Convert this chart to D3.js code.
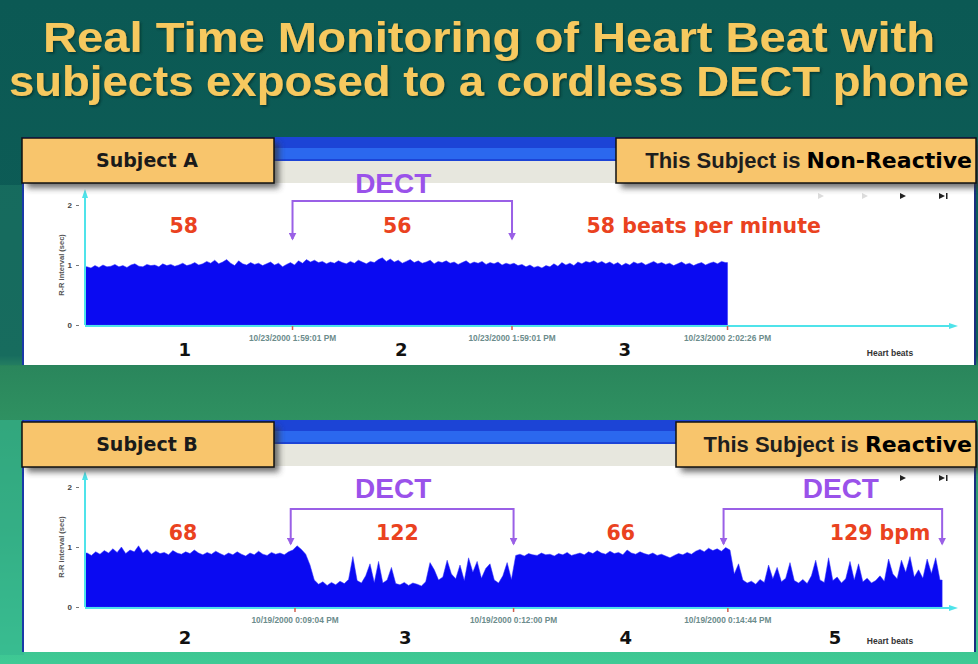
<!DOCTYPE html>
<html><head><meta charset="utf-8">
<script src="https://cdn.jsdelivr.net/npm/d3@7"></script>
<style>
body{margin:0;overflow:hidden;background:#0c5a55}
svg{display:block;font-family:"Liberation Sans",Arial,sans-serif}
</style>
</head><body>
<svg id="c" width="978" height="664"></svg>
<script>
// ---------------- DATA ----------------
const titleLines = ["Real Time Monitoring of Heart Beat with", "subjects exposed to a cordless DECT phone"];
const subjectNames = ["Subject A", "Subject B"];
const verdictPrefix = "This Subject is ";
const verdicts = ["Non-Reactive", "Reactive"];
const yTicks = [0, 1, 2];
const yAxisLabel = "R-R interval (sec)";
const xAxisLabel = "Heart beats";
const dectLabel = "DECT";

const rrA = [
 0.97,0.95,0.99,0.96,1.00,0.97,0.98,1.01,0.97,0.99,0.96,1.00,1.02,0.98,0.97,1.01,0.99,1.00,0.97,1.02,0.99,1.01,0.98,1.00,1.03,0.99,
 1.01,1.04,1.00,1.02,1.06,1.03,1.08,1.02,1.05,1.09,1.03,0.99,1.07,1.02,1.00,1.04,1.01,1.03,0.99,1.02,1.05,1.00,1.03,0.97,1.01,1.04,
 1.00,1.07,1.03,1.09,1.05,1.08,1.04,1.06,1.02,1.05,1.03,1.07,1.04,1.02,1.06,1.03,1.08,1.05,1.02,1.06,1.04,1.09,1.12,1.06,1.10,1.05,
 1.08,1.03,1.06,1.09,1.04,1.07,1.03,1.05,1.08,1.02,1.06,1.04,1.07,1.03,1.05,1.01,1.04,1.07,1.02,1.05,1.03,1.06,1.01,1.04,1.02,1.05,1.00,1.03,1.01,
 1.03,0.99,1.01,0.97,1.00,0.96,0.98,0.95,0.99,0.97,1.02,0.98,1.04,1.00,1.03,0.99,1.05,1.02,1.06,1.04,1.07,1.03,1.06,1.02,1.05,1.01,1.04,
 0.99,1.03,1.00,1.05,1.02,1.04,1.00,1.03,1.06,1.02,1.04,1.01,1.03,0.99,1.02,1.05,1.01,1.03,0.99,1.02,1.04,1.00,1.03,1.05,1.02,1.06,1.04
];
// R-R intervals (sec), subject B
const rrB = [
 0.90,0.86,0.92,0.88,0.94,0.90,0.97,0.91,1.00,0.89,0.95,0.92,1.02,0.90,0.96,0.88,0.93,0.89,0.91,0.87,0.94,0.90,0.88,0.92,0.89,0.95,
 0.90,0.87,0.91,0.88,0.93,0.89,0.86,0.90,0.87,0.92,0.88,0.85,0.90,0.87,0.93,0.88,0.86,0.91,0.88,0.90,0.87,0.92,0.95,1.02,0.96,
 0.88,0.70,0.45,0.38,0.42,0.36,0.41,0.37,0.43,0.39,0.46,0.84,0.44,0.40,0.52,0.72,0.41,0.76,0.40,0.45,0.66,0.39,0.37,0.41,0.36,
 0.40,0.38,0.35,0.42,0.74,0.62,0.45,0.50,0.78,0.55,0.47,0.70,0.44,0.82,0.58,0.76,0.48,0.64,0.72,0.45,0.40,0.52,0.74,0.46,
 0.86,0.88,0.85,0.89,0.87,0.86,0.90,0.87,0.88,0.85,0.89,0.87,0.91,0.86,0.88,0.90,0.87,0.92,0.89,0.94,0.90,0.88,0.93,0.89,0.91,0.87,
 0.95,0.90,0.88,0.92,0.89,0.87,0.90,0.86,0.88,0.85,0.82,0.86,0.89,0.87,0.91,0.88,0.93,0.96,0.92,0.98,0.94,0.97,0.93,0.99,0.95,
 0.55,0.72,0.45,0.40,0.43,0.38,0.46,0.41,0.70,0.47,0.66,0.42,0.48,0.74,0.44,0.40,0.46,0.39,0.52,0.78,0.45,0.41,0.82,0.44,0.50,
 0.40,0.47,0.76,0.45,0.72,0.42,0.48,0.40,0.44,0.52,0.43,0.80,0.55,0.47,0.78,0.58,0.84,0.50,0.62,0.48,0.80,0.56,0.82,0.45
];
// time markers (beat index) and their labels
const markersA = [52, 107, 161];
const markersB = [49, 100, 150];
const timeLabelsA = ["10/23/2000 1:59:01 PM", "10/23/2000 1:59:01 PM", "10/23/2000 2:02:26 PM"];
const timeLabelsB = ["10/19/2000 0:09:04 PM", "10/19/2000 0:12:00 PM", "10/19/2000 0:14:44 PM"];
const phaseNumbersA = ["1", "2", "3"];
const phaseNumbersB = ["2", "3", "4", "5"];
const bpmLabelsA = ["58", "56", "58 beats per minute"];
const bpmLabelsB = ["68", "122", "66", "129 bpm"];
const dectA = [[52, 107]];
const dectB = [[48, 100], [149, 200]];
const axisMaxA = 218, axisMaxB = 203;

// ---------------- DRAW ----------------
const svg = d3.select("#c");
const W = 978, H = 664;
const defs = svg.append("defs");
const BOLD_WIDE = "'DejaVu Sans', Verdana, sans-serif";

const bg = defs.append("linearGradient").attr("id", "bg").attr("x1", 0).attr("y1", 0).attr("x2", 0).attr("y2", 1);
[[0, "#0b5954"], [0.535, "#0e5e57"], [0.552, "#2a865c"], [0.62, "#2e8f60"], [0.8, "#33a577"], [1, "#3fca95"]]
  .forEach(([o, c]) => bg.append("stop").attr("offset", o).attr("stop-color", c));
const sh = defs.append("filter").attr("id", "sh").attr("x", "-10%").attr("y", "-20%").attr("width", "130%").attr("height", "160%");
sh.append("feGaussianBlur").attr("stdDeviation", 3);
const tsh = defs.append("filter").attr("id", "tsh");
tsh.append("feDropShadow").attr("dx", 1.5).attr("dy", 1.5).attr("stdDeviation", 0.8).attr("flood-color", "#00302c").attr("flood-opacity", 0.8);
defs.append("marker").attr("id", "arrP").attr("viewBox", "0 0 10 10").attr("refX", 8).attr("refY", 5)
  .attr("markerWidth", 4).attr("markerHeight", 4).attr("orient", "auto-start-reverse")
  .append("path").attr("d", "M0,0 L10,5 L0,10 Z").attr("fill", "#9a60e6");

svg.append("rect").attr("width", W).attr("height", H).attr("fill", "url(#bg)");
svg.append("rect").attr("x", 0).attr("y", 185).attr("width", 22).attr("height", 180).attr("fill", "#1f7a66").attr("opacity", 0.5);
svg.append("rect").attr("x", 0).attr("y", 420).attr("width", 24).attr("height", 235).attr("fill", "#36b58f").attr("opacity", 0.6);

// title
svg.append("g").attr("filter", "url(#tsh)").selectAll("text").data(titleLines).join("text")
  .attr("x", W / 2).attr("y", (d, i) => 52 + i * 44)
  .attr("text-anchor", "middle").attr("font-size", 42).attr("font-weight", "bold")
  .attr("fill", "#f6c95e")
  .attr("textLength", (d, i) => i === 0 ? 892 : 960).attr("lengthAdjust", "spacingAndGlyphs")
  .text(d => d);

function panel(cfg) {
  const g = svg.append("g");
  const top = cfg.top;
  // window
  g.append("rect").attr("x", 22).attr("y", top).attr("width", 954).attr("height", cfg.bottom - top).attr("fill", "#ffffff");
  g.append("rect").attr("x", 22).attr("y", top).attr("width", 954).attr("height", 24).attr("fill", "#1c44d6");
  g.append("rect").attr("x", 22).attr("y", top + 11).attr("width", 954).attr("height", 11).attr("fill", "#2b68ee");
  g.append("rect").attr("x", 22).attr("y", top + 24).attr("width", 954).attr("height", 22).attr("fill", "#e7e7de");
  g.append("line").attr("x1", 23).attr("x2", 23).attr("y1", top).attr("y2", cfg.bottom).attr("stroke", "#1a3aa8").attr("stroke-width", 2);
  g.append("line").attr("x1", 975).attr("x2", 975).attr("y1", top).attr("y2", cfg.bottom).attr("stroke", "#1a2e80").attr("stroke-width", 2);

  const x = d3.scaleLinear().domain([0, cfg.axisMax]).range([85, 955]);
  const y = d3.scaleLinear().domain([0, 2]).range([cfg.y0, cfg.y0 - 120]);
  const n = cfg.data.length;

  // media buttons
  const by = cfg.btnY;
  if (cfg.faint) [818, 862].forEach(bx =>
    g.append("path").attr("d", `M${bx},${by - 3} L${bx + 6},${by} L${bx},${by + 3}Z`).attr("fill", "#dcdcdc"));
  g.append("path").attr("d", `M${900},${by - 3} L${906},${by} L${900},${by + 3}Z`).attr("fill", "#222");
  g.append("path").attr("d", `M${939},${by - 3} L${945},${by} L${939},${by + 3}Z`).attr("fill", "#222");
  g.append("rect").attr("x", 946).attr("y", by - 3).attr("width", 1.5).attr("height", 6).attr("fill", "#222");

  // area
  const pts = [[0, cfg.data[0]]].concat(cfg.data.map((d, i) => [i + 0.5, d])).concat([[n, cfg.data[n - 1]]]);
  const area = d3.area().x(d => x(d[0])).y0(y(0)).y1(d => y(d[1])).curve(d3.curveLinear);
  g.append("path").datum(pts).attr("d", area).attr("fill", "#0a0af2").attr("stroke", "#3030ff").attr("stroke-width", 0.5);

  // y axis
  const ya = g.append("g").attr("transform", `translate(${x(0) - 6},0)`)
    .call(d3.axisLeft(y).tickValues(yTicks).tickSize(3).tickPadding(4).tickFormat(d3.format("d")));
  ya.select(".domain").remove();
  ya.selectAll("line").attr("stroke", "#777");
  ya.selectAll("text").attr("font-size", 8).attr("font-weight", "bold").attr("fill", "#444").attr("font-family", "Liberation Sans, Arial");
  g.append("text").attr("transform", `translate(64,${y(1)}) rotate(-90)`).attr("text-anchor", "middle")
    .attr("font-size", 7.5).attr("font-weight", "bold").attr("fill", "#555").text(yAxisLabel);

  // cyan axes with arrows
  const cy = "#4fe3ea";
  g.append("line").attr("x1", x(0)).attr("x2", x(0)).attr("y1", y(0)).attr("y2", y(2.2)).attr("stroke", cy).attr("stroke-width", 2);
  g.append("path").attr("d", `M${x(0) - 3},${y(2.2) + 5} L${x(0)},${y(2.2) - 4} L${x(0) + 3},${y(2.2) + 5}Z`).attr("fill", cy);
  g.append("line").attr("x1", x(0)).attr("x2", x(cfg.axisMax)).attr("y1", y(0) + 1).attr("y2", y(0) + 1).attr("stroke", cy).attr("stroke-width", 2);
  g.append("path").attr("d", `M${x(cfg.axisMax) - 6},${y(0) - 2} L${x(cfg.axisMax) + 3},${y(0) + 1} L${x(cfg.axisMax) - 6},${y(0) + 4}Z`).attr("fill", cy);

  // time markers
  g.selectAll(".mk").data(cfg.markers).join("line")
    .attr("x1", d => x(d)).attr("x2", d => x(d)).attr("y1", y(0) + 1).attr("y2", y(0) + 5)
    .attr("stroke", "#d06050").attr("stroke-width", 1.5);
  g.selectAll(".tl").data(cfg.timeLabels).join("text")
    .attr("x", (d, i) => x(cfg.markers[i])).attr("y", y(0) + 16).attr("text-anchor", "middle")
    .attr("font-size", 8.3).attr("font-weight", "bold").attr("fill", "#6c8c8c").text(d => d);

  // phases
  const bounds = [0].concat(cfg.markers);
  if (bounds.length < cfg.phaseNumbers.length + 1) bounds.push(n);
  const mids = cfg.phaseNumbers.map((d, i) => (x(bounds[i]) + x(bounds[i + 1])) / 2);
  g.selectAll(".pn").data(cfg.phaseNumbers).join("text")
    .attr("x", (d, i) => mids[i] + (cfg.pnShift[i] || 0)).attr("y", cfg.y0 + cfg.pnDy).attr("text-anchor", "middle")
    .attr("font-size", 18).attr("font-weight", "bold").attr("fill", "#111").attr("font-family", BOLD_WIDE).text(d => d);
  g.append("text").attr("x", 890).attr("y", cfg.y0 + cfg.pnDy).attr("text-anchor", "middle")
    .attr("font-size", 8.5).attr("font-weight", "bold").attr("fill", "#333").text(xAxisLabel);

  // bpm labels
  g.selectAll(".bpm").data(cfg.bpm).join("text")
    .attr("x", (d, i) => mids[i] + (cfg.bpmShift[i] || 0)).attr("y", cfg.y0 - cfg.bpmUp).attr("text-anchor", "middle")
    .attr("font-size", 20.5).attr("font-weight", "bold").attr("fill", "#ea4220").attr("font-family", BOLD_WIDE).text(d => d);

  // DECT brackets
  cfg.dect.forEach(([a, b], k) => {
    const ty = cfg.y0 - cfg.brTop, by2 = cfg.y0 - cfg.brBot;
    g.append("path").attr("d", `M${x(a)},${by2} L${x(a)},${ty} L${x(b)},${ty} L${x(b)},${by2}`)
      .attr("fill", "none").attr("stroke", "#9a60e6").attr("stroke-width", 2)
      .attr("marker-start", "url(#arrP)").attr("marker-end", "url(#arrP)");
    g.append("text").attr("x", (x(a) + x(b)) / 2 + (cfg.dectShift[k] || 0)).attr("y", cfg.y0 - cfg.dectUp).attr("text-anchor", "middle")
      .attr("font-size", 28).attr("font-weight", "bold").attr("fill", "#9a52ea").text(dectLabel);
  });

  // label boxes
  const box = (bx, bw, by, bh) => {
    g.append("rect").attr("x", bx + 5).attr("y", by + 5).attr("width", bw).attr("height", bh).attr("fill", "#333").attr("opacity", 0.7).attr("filter", "url(#sh)");
    g.append("rect").attr("x", bx).attr("y", by).attr("width", bw).attr("height", bh).attr("fill", "#f8c56c").attr("stroke", "#111").attr("stroke-width", 1.5);
  };
  box(22, 252, cfg.boxTop, 45);
  g.append("text").attr("x", 147).attr("y", cfg.boxTop + 29).attr("text-anchor", "middle").attr("font-family", BOLD_WIDE)
    .attr("font-size", 19).attr("font-weight", "bold").attr("fill", "#1a1a1a").text(cfg.name);
  box(cfg.rbX, 976 - cfg.rbX, cfg.boxTop, 45);
  const t = g.append("text").attr("x", 972).attr("y", cfg.boxTop + 30).attr("text-anchor", "end")
    .attr("font-size", 22).attr("font-weight", "bold");
  t.append("tspan").attr("fill", "#1e1e1e").text(verdictPrefix);
  t.append("tspan").attr("fill", "#000").attr("font-family", BOLD_WIDE).text(cfg.verdict);
}

panel({
  top: 137, bottom: 365, boxTop: 138, rbX: 616, y0: 325, btnY: 196, faint: true,
  data: rrA, axisMax: axisMaxA, markers: markersA, timeLabels: timeLabelsA,
  phaseNumbers: phaseNumbersA, pnDy: 31, pnShift: [-4, -1, 5], bpm: bpmLabelsA, bpmShift: [-5, -5, 84], bpmUp: 92,
  brTop: 124, brBot: 86, dectUp: 132,
  dect: dectA, dectShift: [-9], name: subjectNames[0], verdict: verdicts[0]
});
panel({
  top: 420, bottom: 652, boxTop: 422, rbX: 676, y0: 607, btnY: 478, faint: false,
  data: rrB, axisMax: axisMaxB, markers: markersB, timeLabels: timeLabelsB,
  phaseNumbers: phaseNumbersB, pnDy: 37, pnShift: [-5, 1, 5, 0], bpm: bpmLabelsB, bpmShift: [-7, -7, 0, 45], bpmUp: 67,
  brTop: 98, brBot: 63, dectUp: 109,
  dect: dectB, dectShift: [-9, 8], name: subjectNames[1], verdict: verdicts[1]
});
</script>
</body></html>
